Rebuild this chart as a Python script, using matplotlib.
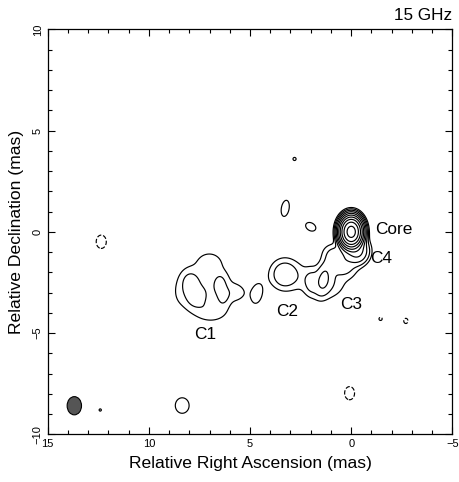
import numpy as np
import matplotlib
matplotlib.use("Agg")
import matplotlib.pyplot as plt
from matplotlib.patches import Ellipse

plt.rcParams['font.family'] = ['Liberation Sans', 'DejaVu Sans']

# --- model components (RA mas, Dec mas, amplitude in units of lowest contour, fwhm_x, fwhm_y, rotation deg)
# core, C4, bridge, C3, C3 halo, C3 west, C2, neck, upper bridge,
# C1 halo, C1 left (2), C1 right (2), C1 bumps (4), knot, small blobs
comp_x   = [0.00, -0.30, 0.50, 1.35, 1.30, 2.00, 3.28, 2.35, 0.80,
            7.10, 8.00, 7.75, 6.45, 6.30, 7.00, 5.65, 6.90, 8.45,
            4.65, 3.26, 2.00, 2.80, 12.40, 8.35]
comp_y   = [0.00, -0.95, -1.55, -2.30, -2.50, -2.50, -2.10, -2.25, -1.00,
            -2.80, -2.40, -3.30, -2.55, -3.20, -1.45, -3.00, -4.00, -3.00,
            -3.06, 1.16, 0.25, 3.60, -8.80, -8.58]
comp_amp = [720.0, 10.0, 3.0, 3.0, 2.2, 1.3, 3.6, 0.25, 1.4,
            1.7, 1.5, 1.5, 1.25, 1.25, 1.0, 1.0, 1.0, 0.6,
            1.4, 1.5, 1.5, 1.2, 1.1, 1.5]
comp_fx  = [0.58, 0.80, 1.20, 0.55, 1.70, 0.50, 1.15, 0.80, 1.00,
            2.40, 0.75, 0.85, 0.50, 0.50, 1.00, 0.80, 1.20, 0.60,
            0.65, 0.50, 0.70, 0.30, 0.30, 0.89]
comp_fy  = [0.78, 0.90, 0.80, 1.30, 1.40, 1.00, 1.20, 1.60, 0.80,
            2.40, 0.90, 0.90, 0.80, 0.80, 0.80, 0.70, 0.70, 1.00,
            1.20, 1.05, 0.50, 0.30, 0.30, 1.00]
comp_rot = [0, 0, 40, 10, 0, 0, 0, 0, 0,
            0, 0, 0, 0, 0, 0, 0, 0, 0,
            10, 10, 30, 0, 0, 0]

# negative (dashed) features
neg_x   = [12.35, 0.08, -1.45, -2.70]
neg_y   = [-0.49, -7.97, -4.30, -4.40]
neg_amp = [-1.5, -1.5, -1.15, -1.2]
neg_fx  = [0.65, 0.64, 0.35, 0.40]
neg_fy  = [0.86, 0.85, 0.35, 0.50]

base_level = 1.0
level_steps = [0, 1, 2, 3, 4, 5, 6, 7, 8, 9]

# beam
beam_x, beam_y, beam_w, beam_h = 13.68, -8.59, 0.71, 0.90

labels = ["Core", "C4", "C3", "C2", "C1"]
label_x = [-1.2, -0.95, 0.0, 3.15, 7.2]
label_y = [0.1, -1.3, -3.6, -3.95, -5.05]
label_ha = ["left", "left", "center", "center", "center"]

# --- build image
xs = np.linspace(15, -5, 801)
ys = np.linspace(-10, 10, 801)
X, Y = np.meshgrid(xs, ys)
img = np.zeros_like(X)
k = 4 * np.log(2)

def add(x0, y0, a, fx, fy, rot):
    t = np.deg2rad(rot)
    dx = X - x0
    dy = Y - y0
    u = dx * np.cos(t) + dy * np.sin(t)
    v = -dx * np.sin(t) + dy * np.cos(t)
    return a * np.exp(-k * (u ** 2 / fx ** 2 + v ** 2 / fy ** 2))

for i in range(len(comp_x)):
    img += add(comp_x[i], comp_y[i], comp_amp[i], comp_fx[i], comp_fy[i], comp_rot[i])
for i in range(len(neg_x)):
    img += add(neg_x[i], neg_y[i], neg_amp[i], neg_fx[i], neg_fy[i], 0)

levels = [base_level * 2 ** s for s in level_steps]

fig = plt.figure(figsize=(4.6, 4.82), dpi=100)
ax = fig.add_axes([0.1035, 0.099, 0.880, 0.840])
ax.contour(X, Y, img, levels=levels, colors='black', linewidths=0.85)
ax.contour(X, Y, img, levels=[-base_level], colors='black', linewidths=0.85, linestyles='dashed')

ax.add_patch(Ellipse((beam_x, beam_y), beam_w, beam_h, facecolor='#555555', edgecolor='black', lw=0.8))

for t, lx, ly, ha in zip(labels, label_x, label_y, label_ha):
    ax.text(lx, ly, t, fontsize=12.4, ha=ha, va='center')

ax.set_xlim(15, -5)
ax.set_ylim(-10, 10)
ax.set_xticks([15, 10, 5, 0, -5])
ax.set_xticklabels(['15', '10', '5', '0', '\u22125'])
ax.set_yticks([-10, -5, 0, 5, 10])
ax.set_yticklabels(['\u221210', '\u22125', '0', '5', '10'], rotation=90, va='center')
ax.set_xticks(np.arange(-5, 16, 1), minor=True)
ax.set_yticks(np.arange(-10, 11, 1), minor=True)
ax.tick_params(which='both', direction='in', top=True, right=True, labelsize=8, width=0.8)
ax.tick_params(which='major', length=5)
ax.tick_params(which='minor', length=3)
for s in ax.spines.values():
    s.set_linewidth(0.9)
ax.set_xlabel('Relative Right Ascension (mas)', fontsize=12.6, labelpad=5)
ax.set_ylabel('Relative Declination (mas)', fontsize=12.6, labelpad=6)
fig.text(0.983, 0.968, '15 GHz', fontsize=12.3, ha='right', va='center')

fig.savefig('out.png', dpi=100)
